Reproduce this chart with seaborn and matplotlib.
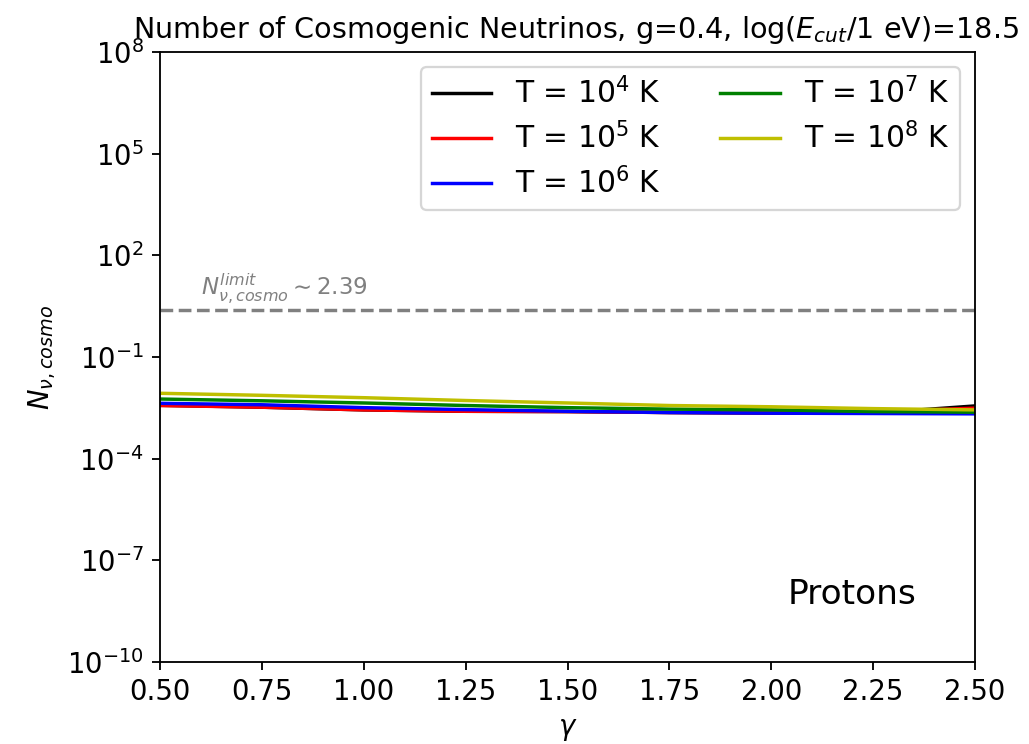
import numpy as np
import pandas as pd
import matplotlib
matplotlib.use("Agg")
import matplotlib.pyplot as plt
import seaborn as sns

gamma = [0.5, 0.75, 1.0, 1.25, 1.5, 1.75, 2.0, 2.25, 2.5]
n_T1e4 = [3.75e-3, 3.3e-3, 2.75e-3, 2.5e-3, 2.45e-3, 2.3e-3, 2.2e-3, 2.2e-3, 3.6e-3]
n_T1e5 = [3.7e-3, 3.3e-3, 2.75e-3, 2.5e-3, 2.45e-3, 2.3e-3, 2.25e-3, 2.4e-3, 3.1e-3]
n_T1e6 = [4.3e-3, 3.9e-3, 3.2e-3, 2.8e-3, 2.5e-3, 2.3e-3, 2.2e-3, 2.15e-3, 2.1e-3]
n_T1e7 = [5.75e-3, 5.1e-3, 4.4e-3, 3.7e-3, 3.2e-3, 2.9e-3, 2.75e-3, 2.45e-3, 2.35e-3]
n_T1e8 = [8.5e-3, 7.4e-3, 6.3e-3, 5.2e-3, 4.4e-3, 3.7e-3, 3.4e-3, 3.0e-3, 2.75e-3]
labels = [r"T = $10^4$ K", r"T = $10^5$ K", r"T = $10^6$ K", r"T = $10^7$ K", r"T = $10^8$ K"]
colors = ["k", "r", "b", "g", "y"]
n_limit = 2.39

series = [n_T1e4, n_T1e5, n_T1e6, n_T1e7, n_T1e8]
df = pd.concat([pd.DataFrame({"gamma": gamma, "N": s, "T": lab}) for s, lab in zip(series, labels)])

dpi = 165
fig = plt.figure(figsize=(1029 / dpi, 744 / dpi), dpi=dpi)
ax = fig.add_axes([160 / 1029, 1 - 662 / 744, (975 - 160) / 1029, (662 - 52) / 744])

sns.lineplot(data=df, x="gamma", y="N", hue="T", palette=dict(zip(labels, colors)),
             hue_order=labels, ax=ax, linewidth=1.5, legend=False)
ax.axhline(n_limit, color="gray", linestyle="--", linewidth=1.5)

ax.set_yscale("log")
ax.set_xlim(0.5, 2.5)
ax.set_ylim(1e-10, 1e8)
ax.set_yticks([1e-10, 1e-7, 1e-4, 1e-1, 1e2, 1e5, 1e8])
ax.minorticks_off()
ax.set_xticks(np.arange(0.5, 2.51, 0.25))
ax.set_xticklabels([f"{v:.2f}" for v in np.arange(0.5, 2.51, 0.25)])
ax.tick_params(labelsize=12)
ax.set_xlabel(r"$\gamma$", fontsize=12)
ax.set_ylabel(r"$N_{\nu,cosmo}$", fontsize=12)
ax.set_title(r"Number of Cosmogenic Neutrinos, g=0.4, log($E_{cut}$/1 eV)=18.5", fontsize=12.5, x=0.51)

ax.text(0.6, 3.3, r"$N^{limit}_{\nu,cosmo}\sim 2.39$", color="gray", fontsize=10, va="bottom")
ax.text(2.04, 1e-8, "Protons", fontsize=15, va="center")

handles = [plt.Line2D([], [], color=c, linewidth=1.5) for c in colors]
ax.legend(handles, labels, ncol=2, loc="upper right", fontsize=13,
          borderpad=0.35, labelspacing=0.42)

fig.savefig("out.png", dpi=dpi)
